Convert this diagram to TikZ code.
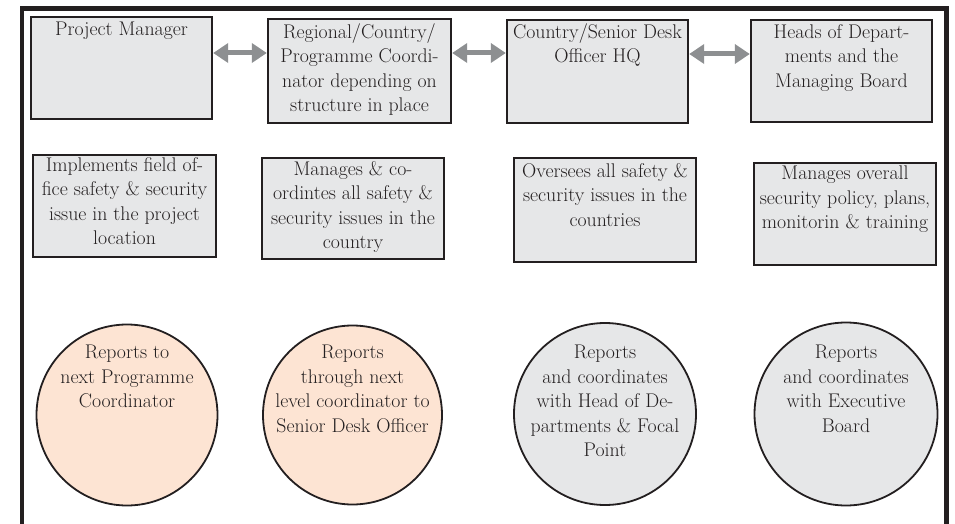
\documentclass[tikz,border=0pt]{standalone}
\usetikzlibrary{arrows.meta}
\definecolor{ink}{HTML}{231F20}
\definecolor{boxfill}{HTML}{E6E7E8}
\definecolor{peach}{HTML}{FDE4D3}
\definecolor{arrowgray}{HTML}{8D8F91}
\begin{document}
\begin{tikzpicture}[x=1pt,y=-1pt,
  boxnode/.style={draw=ink,fill=boxfill,line width=2.4pt,rectangle,inner sep=0pt},
  circnode/.style={draw=ink,line width=1.8pt,circle,inner sep=0pt},
  txt/.style={anchor=north,align=center,inner sep=0pt,font=\fontsize{19.8}{24.5}\selectfont,text=ink},
  dbl/.style={arrowgray,line width=5pt,{Triangle[length=15pt,width=19pt]}-{Triangle[length=15pt,width=19pt]}}
]
\useasboundingbox (0,0) rectangle (955,524);
\fill[white] (0,0) rectangle (955,524);
% outer frame
\coordinate (fbl) at (22,524);
\coordinate (ftl) at (22,8.5);
\coordinate (ftr) at (946.5,8.5);
\coordinate (fbr) at (946.5,524);
\draw[ink,line width=4.5pt] (fbl) -- (ftl) -- (ftr) -- (fbr);

% row 1 boxes
\node[boxnode,minimum width=181pt,minimum height=102pt] (b1) at (121.5,68) {};
\node[boxnode,minimum width=183pt,minimum height=104pt] (b2) at (359.5,71) {};
\node[boxnode,minimum width=181pt,minimum height=103pt] (b3) at (597.5,71.5) {};
\node[boxnode,minimum width=181pt,minimum height=102pt] (b4) at (841.5,71) {};
\node[txt] (t1) at (121.5,22) {Project Manager};
\node[txt] (t2) at (359.5,23) {Regional/Country/\\Programme Coordi-\\nator depending on\\structure in place};
\node[txt] (t3) at (597.5,23) {Country/Senior Desk\\Officer HQ};
\node[txt] (t4) at (841.5,24) {Heads of Depart-\\ments and the\\Managing Board};

% arrows
\draw[dbl] (b1.east |- 0,53) -- (b2.west |- 0,53);
\draw[dbl] (b2.east |- 0,53) -- (b3.west |- 0,53);
\draw[dbl] (b3.east |- 0,54) -- (b4.west |- 0,54);

% row 2 boxes
\node[boxnode,minimum width=183pt,minimum height=102pt] (b5) at (124.5,206) {};
\node[boxnode,minimum width=182pt,minimum height=101pt] (b6) at (353,208.5) {};
\node[boxnode,minimum width=182pt,minimum height=104pt] (b7) at (605,210) {};
\node[boxnode,minimum width=182pt,minimum height=102pt] (b8) at (845,214) {};
\node[txt] (t5) at (124.5,157) {Implements field of-\\fice safety \& security\\issue in the project\\location};
\node[txt] (t6) at (353,161) {Manages \& co-\\ordintes all safety \&\\security issues in the\\country};
\node[txt] (t7) at (605,163) {Oversees all safety \&\\security issues in the\\countries};
\node[txt] (t8) at (845,166) {Manages overall\\security policy, plans,\\monitorin \& training};

% row 3 circles
\node[circnode,fill=peach,minimum size=181pt] (c1) at (127,415) {};
\node[circnode,fill=peach,minimum size=179pt] (c2) at (352.5,415) {};
\node[circnode,fill=boxfill,minimum size=182pt] (c3) at (605,414) {};
\node[circnode,fill=boxfill,minimum size=183pt] (c4) at (846,414) {};
\node[txt] (t9) at (127,345) {Reports to\\next Programme\\Coordinator};
\node[txt] (t10) at (352.5,345) {Reports\\through next\\level coordinator to\\Senior Desk Officer};
\node[txt] (t11) at (605,345) {Reports\\and coordinates\\with Head of De-\\partments \& Focal\\Point};
\node[txt] (t12) at (846,345) {Reports\\and coordinates\\with Executive\\Board};
\end{tikzpicture}
\end{document}
